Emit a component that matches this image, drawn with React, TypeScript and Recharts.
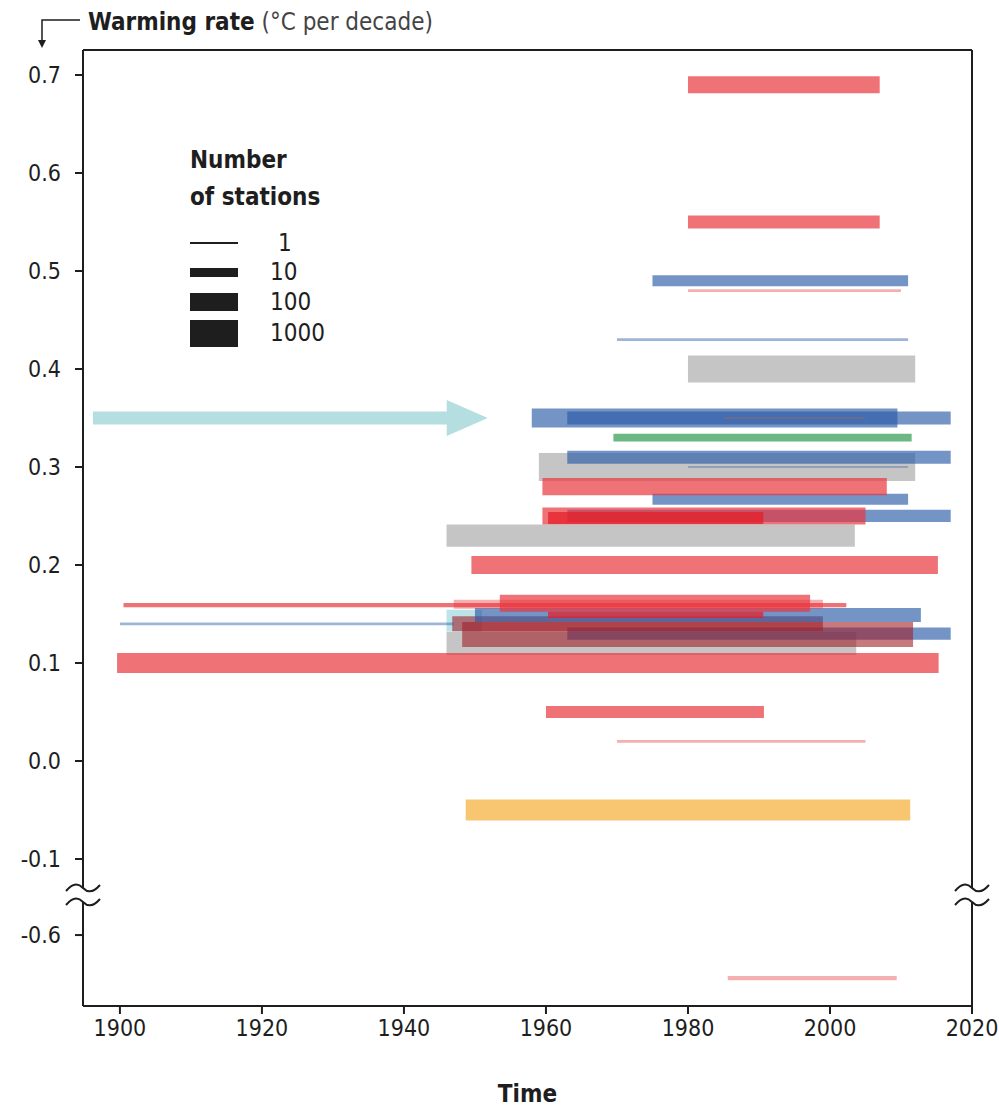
import { ComposedChart, Line, XAxis, YAxis, ReferenceLine, ReferenceDot } from 'recharts';

const FONT = "'Liberation Sans Narrow', 'DejaVu Sans Condensed', 'Open Sans', sans-serif";
const INK = '#1e1e1e';

const X_TICKS = [1900, 1920, 1940, 1960, 1980, 2000, 2020];
const Y_TICKS = [0.7, 0.6, 0.5, 0.4, 0.3, 0.2, 0.1, 0, -0.1, -0.6];
const LEGEND_STATIONS = [1, 10, 100, 1000];

// one entry per record, drawn in this order (later ones end up on top)
const SOURCE = [
  'red', 'red', 'blue', 'pink', 'faintBlue', 'gray',
  'blue', 'blue', 'other', 'green', 'gray', 'blue', 'faintBlue', 'blue', 'red',
  'blue', 'red', 'brightRed', 'gray', 'red',
  'gray', 'cyan', 'blue', 'darkRed', 'darkRed', 'faintBlue', 'blue', 'pink', 'red', 'red', 'brightRed', 'red',
  'red', 'pink', 'orange', 'pink',
];
const START = [
  1980, 1980, 1975, 1980, 1970, 1980,
  1958, 1963, 1985, 1969.5, 1959, 1963, 1980, 1975, 1959.5,
  1963, 1959.5, 1960.3, 1946, 1949.5,
  1946, 1946, 1963, 1948.2, 1946.8, 1900, 1950, 1947, 1900.5, 1953.5, 1960.3, 1899.6,
  1960, 1970, 1948.7, 1985.6,
];
const END = [
  2007, 2007, 2011, 2010, 2011, 2012,
  2009.5, 2017, 2005, 2011.5, 2012, 2017, 2011, 2011, 2008,
  2017, 2005, 1990.6, 2003.5, 2015.2,
  2003.7, 1951, 2017, 2011.7, 1999, 1947, 2012.8, 1999, 2002.3, 1997.2, 1990.6, 2015.3,
  1990.7, 2005, 2011.3, 2009.4,
];
const RATE = [
  0.69, 0.55, 0.49, 0.48, 0.43, 0.4,
  0.35, 0.35, 0.35, 0.33, 0.3, 0.31, 0.3, 0.267, 0.28,
  0.25, 0.25, 0.248, 0.23, 0.2,
  0.12, 0.143, 0.13, 0.129, 0.14, 0.14, 0.149, 0.16, 0.159, 0.161, 0.149, 0.1,
  0.05, 0.02, -0.05, -0.644,
];
const STATIONS = [
  80, 28, 17, 2, 2, 1000,
  130, 28, 1, 7, 1300, 28, 1, 17, 80,
  23, 80, 22, 300, 100,
  360, 280, 22, 600, 46, 2, 36, 10, 3, 80, 5, 170,
  22, 2, 220, 3,
];

const PALETTE: Record<string, [string, number]> = {
  red: ['#e8363d', 0.7],
  pink: ['#e8363d', 0.4],
  brightRed: ['#e4202a', 0.75],
  darkRed: ['#a0202a', 0.6],
  blue: ['#2a5aa8', 0.65],
  faintBlue: ['#2a5aa8', 0.45],
  gray: ['#8c8c8c', 0.5],
  green: ['#2e9a4e', 0.7],
  orange: ['#f5a623', 0.65],
  cyan: ['#8fd0d8', 0.6],
  other: ['#8a6a70', 0.7],
};

// the y axis is broken between -0.1 and -0.6
const BREAK_AT = -0.15;
const BREAK_SHIFT = 0.4224;
const BREAK_MARK = -0.1367;
const BREAK_GAP = 0.0072;
const toAxis = (v: number) => (v < BREAK_AT ? v + BREAK_SHIFT : v);

const X_DOMAIN: [number, number] = [1894.8, 2020];
const Y_DOMAIN: [number, number] = [-0.25, 0.7255];

// annotation arrow pointing at the 0.35 records
const ARROW_FROM = 1896.2;
const ARROW_TO = 1951.8;
const ARROW_RATE = 0.35;

const barWidth = (n: number) => Math.max(1.5, 9 * Math.log10(n));

const records = SOURCE.map((src, i) => ({
  src,
  n: STATIONS[i],
  data: [
    { x: START[i], y: toAxis(RATE[i]) },
    { x: END[i], y: toAxis(RATE[i]) },
  ],
}));

const formatY = (t: number) => {
  const real = Y_TICKS.find((v) => Math.abs(toAxis(v) - t) < 1e-6);
  return real === undefined ? '' : real.toFixed(1);
};

const BreakMark = (props: any) => {
  const { cx, cy } = props;
  if (cx == null || cy == null) return <g />;
  const tilde = (y: number) =>
    `M${cx - 17},${y + 3} C${cx - 9},${y - 6} ${cx - 4},${y - 4} ${cx},${y} C${cx + 4},${y + 4} ${cx + 9},${y + 6} ${cx + 17},${y - 3}`;
  return (
    <g>
      <path d={tilde(cy - 7)} fill="none" stroke={INK} strokeWidth={2} />
      <path d={tilde(cy + 7)} fill="none" stroke={INK} strokeWidth={2} />
    </g>
  );
};

const ArrowHead = (props: any) => {
  const { cx, cy } = props;
  if (cx == null || cy == null) return <g />;
  return <polygon points={`${cx},${cy} ${cx - 41},${cy - 18} ${cx - 41},${cy + 18}`} fill="#b4dee0" />;
};

const LEGEND_Y = [243, 272, 302, 333];

export default function App() {
  const frame = { stroke: INK, strokeWidth: 2 };
  const tick = { fontSize: 23, fill: INK, fontFamily: FONT };

  return (
    <div
      style={{
        position: 'absolute',
        left: 0,
        top: 0,
        width: 999,
        height: 1110,
        background: '#fff',
        fontFamily: FONT,
        color: INK,
        overflow: 'hidden',
      }}
    >
      <ComposedChart width={999} height={1110} margin={{ top: 50, right: 27, bottom: 64, left: 23 }}>
        <XAxis
          dataKey="x"
          type="number"
          domain={X_DOMAIN}
          allowDataOverflow
          ticks={X_TICKS}
          interval={0}
          height={40}
          tickSize={8}
          tickMargin={6}
          axisLine={frame}
          tickLine={frame}
          tick={tick}
        />
        <YAxis
          type="number"
          domain={Y_DOMAIN}
          allowDataOverflow
          ticks={Y_TICKS.map(toAxis)}
          interval={0}
          width={60}
          tickSize={8}
          tickMargin={14}
          tickFormatter={formatY}
          axisLine={false}
          tickLine={frame}
          tick={tick}
        />

        {records.map((r, i) => {
          const [color, alpha] = PALETTE[r.src];
          return (
            <Line
              key={i}
              data={r.data}
              dataKey="y"
              stroke={color}
              strokeOpacity={alpha}
              strokeWidth={barWidth(r.n)}
              strokeLinecap="butt"
              dot={false}
              activeDot={false}
              legendType="none"
              isAnimationActive={false}
            />
          );
        })}

        {/* top frame, then the broken left and right frame */}
        <ReferenceLine
          ifOverflow="visible"
          segment={[{ x: X_DOMAIN[0], y: Y_DOMAIN[1] }, { x: X_DOMAIN[1], y: Y_DOMAIN[1] }]}
          {...frame}
        />
        {X_DOMAIN.map((x) => (
          <ReferenceLine
            key={`hi${x}`}
            ifOverflow="visible"
            segment={[{ x, y: Y_DOMAIN[1] }, { x, y: BREAK_MARK + BREAK_GAP }]}
            {...frame}
          />
        ))}
        {X_DOMAIN.map((x) => (
          <ReferenceLine
            key={`lo${x}`}
            ifOverflow="visible"
            segment={[{ x, y: BREAK_MARK - BREAK_GAP }, { x, y: Y_DOMAIN[0] }]}
            {...frame}
          />
        ))}
        {X_DOMAIN.map((x) => (
          <ReferenceDot key={`br${x}`} x={x} y={BREAK_MARK} r={0} ifOverflow="visible" shape={BreakMark} />
        ))}

        <ReferenceLine
          ifOverflow="visible"
          segment={[{ x: ARROW_FROM, y: ARROW_RATE }, { x: ARROW_TO - 5.5, y: ARROW_RATE }]}
          stroke="#b4dee0"
          strokeWidth={13}
        />
        <ReferenceDot x={ARROW_TO} y={ARROW_RATE} r={0} ifOverflow="visible" shape={ArrowHead} />
      </ComposedChart>

      {/* title with bent arrow */}
      <svg style={{ position: 'absolute', left: 0, top: 0 }} width={90} height={52}>
        <polyline points="80,20 42,20 42,42" fill="none" stroke={INK} strokeWidth={1.5} />
        <polygon points="38,40 46,40 42,48" fill={INK} />
      </svg>
      <div style={{ position: 'absolute', left: 88, top: 6, fontSize: 24, lineHeight: '32px', whiteSpace: 'nowrap' }}>
        <span style={{ fontWeight: 700 }}>Warming rate</span>{' '}
        <span style={{ color: '#444' }}>(°C per decade)</span>
      </div>

      {/* station count legend */}
      <div style={{ position: 'absolute', left: 190, top: 142, fontSize: 24, fontWeight: 700, lineHeight: '37px' }}>
        Number
        <br />
        of stations
      </div>
      {LEGEND_STATIONS.map((n, i) => {
        const w = barWidth(n);
        return (
          <div key={n}>
            <div
              style={{
                position: 'absolute',
                left: 190,
                top: LEGEND_Y[i] - w / 2,
                width: 48,
                height: w,
                background: INK,
              }}
            />
            <div
              style={{
                position: 'absolute',
                left: i === 0 ? 278 : 270,
                top: LEGEND_Y[i] - 14,
                fontSize: 24,
                lineHeight: '28px',
              }}
            >
              {n}
            </div>
          </div>
        );
      })}

      <div
        style={{
          position: 'absolute',
          left: 83,
          width: 889,
          top: 1078,
          textAlign: 'center',
          fontSize: 24,
          fontWeight: 700,
          lineHeight: '32px',
        }}
      >
        Time
      </div>
    </div>
  );
}
